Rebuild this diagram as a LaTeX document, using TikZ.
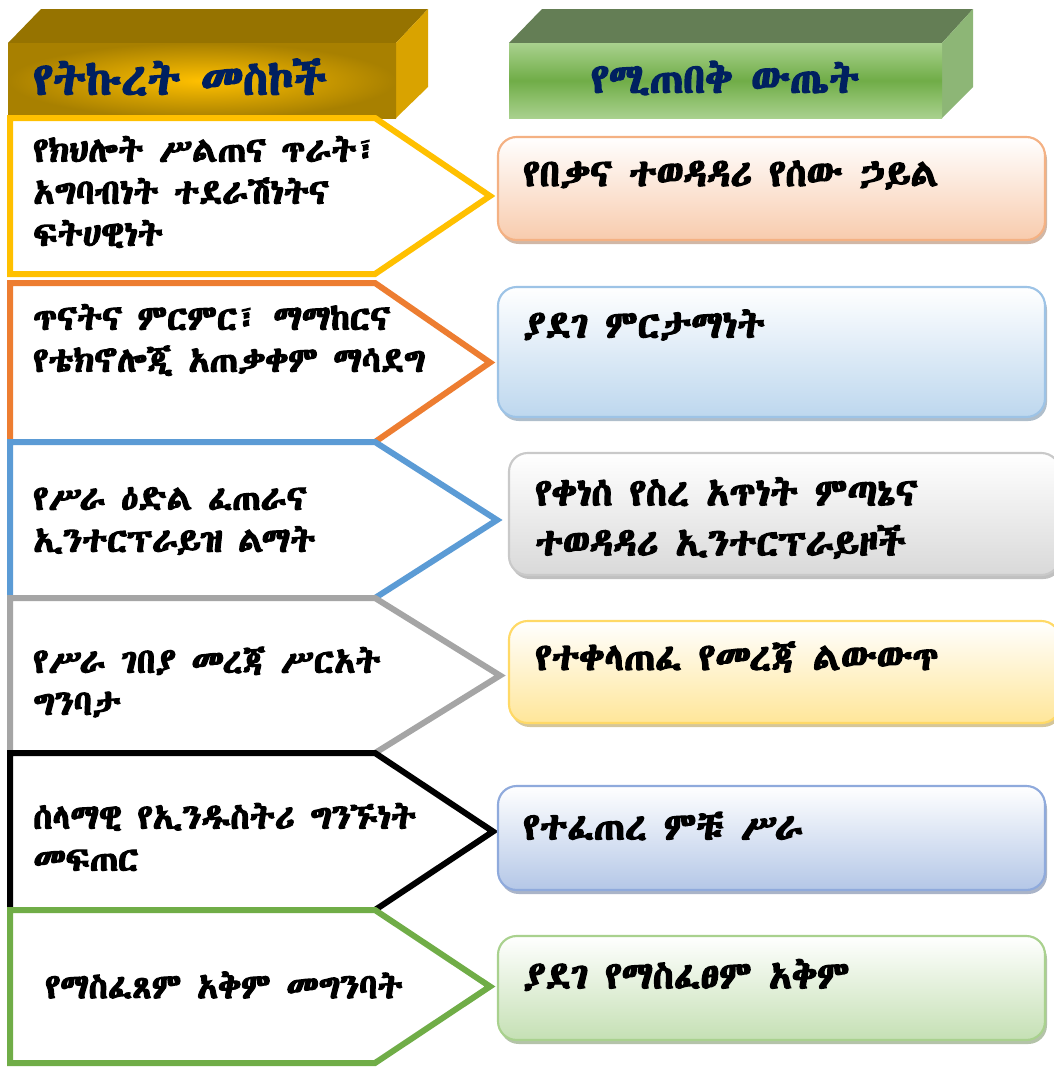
\documentclass[tikz,border=0pt]{standalone}
\usepackage{fontspec}
\usepackage{xcolor}
\usepackage{tikz}
\newfontfamily\ethfont[AutoFakeBold=3.6]{Abyssinica SIL}
\definecolor{navy}{HTML}{002060}
\definecolor{goldhi}{HTML}{FFC000}
\definecolor{golddark}{HTML}{A88000}
\definecolor{goldtop}{HTML}{967300}
\definecolor{goldside}{HTML}{D9A300}
\definecolor{grnlight}{HTML}{A9D18E}
\definecolor{grnmid}{HTML}{70AD47}
\definecolor{grntop}{HTML}{647E55}
\definecolor{grnside}{HTML}{8DB676}
\definecolor{yel}{HTML}{FFC000}
\definecolor{org}{HTML}{ED7D31}
\definecolor{blu}{HTML}{5B9BD5}
\definecolor{gry}{HTML}{A5A5A5}
\definecolor{blk}{HTML}{000000}
\definecolor{grn}{HTML}{70AD47}
\definecolor{peachb}{HTML}{F4B183}
\definecolor{peachf}{HTML}{F8CBAD}
\definecolor{skyb}{HTML}{9DC3E6}
\definecolor{skyf}{HTML}{BDD7EE}
\definecolor{silvb}{HTML}{C9C9C9}
\definecolor{silvf}{HTML}{D9D9D9}
\definecolor{sunb}{HTML}{FFD966}
\definecolor{sunf}{HTML}{FFE699}
\definecolor{lavb}{HTML}{8FAADC}
\definecolor{lavf}{HTML}{B4C7E7}
\definecolor{leafb}{HTML}{A9D18E}
\definecolor{leaff}{HTML}{C5E0B4}
\tikzset{
  arrowbox/.style={fill=white, line width=4.5pt, line join=miter},
  resbox/.style={rounded corners=14pt, line width=1.6pt},
  headtxt/.style={text=navy, inner sep=0pt, font=\ethfont\bfseries\fontsize{34}{40}\selectfont},
  lbl/.style={text=black, anchor=west, align=left, inner sep=0pt,
    font=\ethfont\bfseries\fontsize{26}{31.5}\selectfont},
  rlbl/.style={lbl, font=\ethfont\bfseries\fontsize{28.5}{37.5}\selectfont}
}
\begin{document}
\begin{tikzpicture}[x=0.75pt,y=-0.75pt]
  \useasboundingbox (0,0) rectangle (1053,1067);

  % headers
  \fill[goldtop] (8,43) -- (41,9) -- (428,9) -- (396,43) -- cycle;
  \fill[goldside] (396,43) -- (428,9) -- (428,87) -- (396,118) -- cycle;
  \shade[inner color=goldhi, outer color=golddark] (8,43) rectangle (396,118);
  \node[headtxt] (focus) at (180,77) {የትኩረት መስኮች};

  \fill[grntop] (509,43) -- (542,9) -- (973,9) -- (942,43) -- cycle;
  \fill[grnside] (942,43) -- (973,9) -- (973,87) -- (942,118) -- cycle;
  \shade[top color=grnlight, bottom color=grnlight, middle color=grnmid] (509,43) rectangle (942,118);
  \node[headtxt, font=\ethfont\bfseries\fontsize{31}{36}\selectfont] (result) at (725,78) {የሚጠበቅ ውጤት};

  % focus areas
  \foreach \yt/\yb/\tx/\col in {118/274/490/yel, 283/442/490/org, 442/598/497/blu,
      598/753/500/gry, 753/910/493/blk, 910/1063/490/grn}
    \draw[arrowbox, draw=\col] (10,\yt) -- (375,\yt) -- (\tx,{(\yt+\yb)/2})
      -- (375,\yb) -- (10,\yb) -- cycle;

  \node[lbl] (f1) at (33,192) {የክህሎት ሥልጠና ጥራት፣\\አግባብነት ተደራሽነትና\\ፍትሀዊነት};
  \node[lbl] (f2) at (33,340) {ጥናትና ምርምር፣ ማማከርና\\የቴክኖሎጂ አጠቃቀም ማሳደግ};
  \node[lbl] (f3) at (33,521) {የሥራ ዕድል ፈጠራና\\ኢንተርፕራይዝ ልማት};
  \node[lbl] (f4) at (33,682) {የሥራ ገበያ መረጃ ሥርአት\\ግንባታ};
  \node[lbl] (f5) at (33,837) {ሰላማዊ የኢንዱስትሪ ግንኙነት\\መፍጠር};
  \node[lbl] (f6) at (45,985) {የማስፈጸም አቅም መግንባት};

  % expected results
  \foreach \xa/\ya/\xb/\yb/\bc/\fc in {498/137/1045/240/peachb/peachf,
      498/287/1045/417/skyb/skyf, 509/453/1060/575/silvb/silvf,
      509/621/1060/723/sunb/sunf, 498/786/1045/890/lavb/lavf,
      498/936/1045/1040/leafb/leaff} {
    \fill[resbox, \bc!70!black, opacity=0.55] (\xa+2,\ya+4) rectangle (\xb+2,\yb+4);
    \shade[resbox, top color=white, bottom color=\fc] (\xa,\ya) rectangle (\xb,\yb);
    \draw[resbox, draw=\bc] (\xa,\ya) rectangle (\xb,\yb);
  }

  \node[rlbl] (r1) at (523,175) {የበቃና ተወዳዳሪ የሰው ኃይል};
  \node[rlbl] (r2) at (523,325) {ያደገ ምርታማነት};
  \node[rlbl] (r3) at (535,518) {የቀነሰ የስረ አጥነት ምጣኔና\\ተወዳዳሪ ኢንተርፕራይዞች};
  \node[rlbl] (r4) at (535,657) {የተቀላጠፈ የመረጃ ልውውጥ};
  \node[rlbl] (r5) at (523,826) {የተፈጠረ ምቹ ሥራ};
  \node[rlbl] (r6) at (523,975) {ያደገ የማስፈፀም አቅም};
\end{tikzpicture}
\end{document}
